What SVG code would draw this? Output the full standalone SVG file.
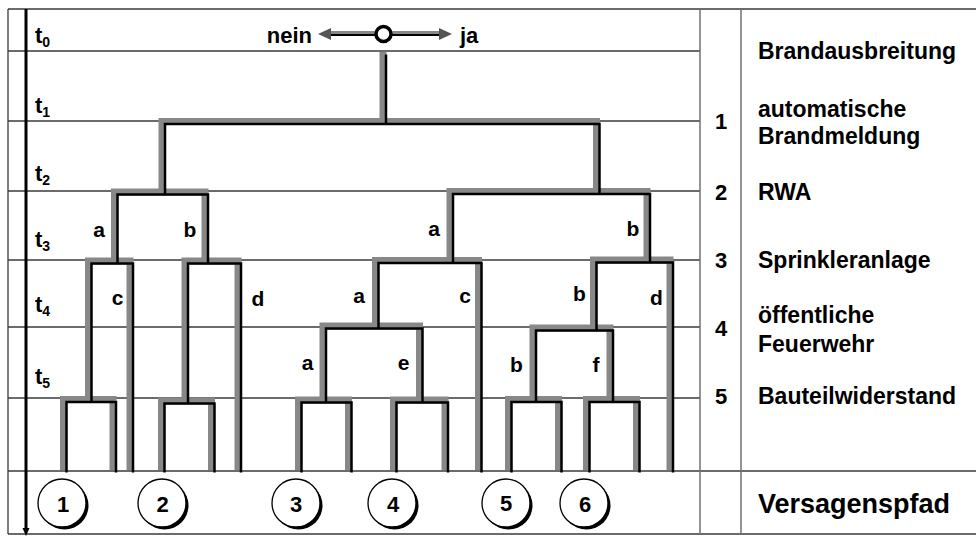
<svg xmlns="http://www.w3.org/2000/svg" xmlns:xlink="http://www.w3.org/1999/xlink" width="976" height="538" viewBox="0 0 976 538">
<style>
  text { font-family: "Liberation Sans", Arial, sans-serif; font-weight: bold; fill: #000; }
  .grid { stroke: #3a3a3a; stroke-width: 1.3; fill: none; }
  .col { stroke: #707070; stroke-width: 1.5; fill: none; }
  .gray { stroke: #888888; stroke-width: 7; fill: none; stroke-linejoin: miter; stroke-linecap: butt; }
  .blk { stroke: #000; stroke-width: 2.5; fill: none; stroke-linejoin: miter; stroke-linecap: butt; }
  .lbl { font-size: 21px; text-anchor: middle; }
  .t { font-size: 22px; }
  .sub { font-size: 14px; }
  .rt { font-size: 23px; }
  .num { font-size: 22px; text-anchor: middle; }
  .cnum { font-size: 22px; text-anchor: middle; }
</style>
<defs>
  <g id="forkpaths">
    <path d="M383,52 V121.5"/>
    <path d="M162,192 V121.5 H596.5 V191.5"/>
    <path d="M114.5,261 V192 H205 V261"/>
    <path d="M88.5,399.5 V261 H130 V470"/>
    <path d="M63.5,470 V399.5 H113 V470"/>
    <path d="M185,401 V261 H238 V470"/>
    <path d="M161.5,470 V401 H211.5 V470"/>
    <path d="M450,260.5 V191.5 H647 V260"/>
    <path d="M375.5,326 V260.5 H478.5 V470"/>
    <path d="M323,400 V326 H419.5 V400"/>
    <path d="M298.5,470 V400 H348.5 V470"/>
    <path d="M393.5,470 V400 H445 V470"/>
    <path d="M593.5,328 V260 H670 V470"/>
    <path d="M533,399.5 V328 H610 V399.5"/>
    <path d="M508.5,470 V399.5 H558.5 V470"/>
    <path d="M586.5,470 V399.5 H636.5 V470"/>
  </g>
</defs>
<rect x="0" y="0" width="976" height="538" fill="#fff"/>

<g id="frame">
  <line class="grid" x1="8" y1="9" x2="976" y2="9"/>
  <line class="grid" x1="8" y1="534" x2="976" y2="534"/>
  <line class="grid" x1="8" y1="9" x2="8" y2="534"/>
  <line class="grid" x1="8" y1="51" x2="700" y2="51"/>
  <line class="grid" x1="8" y1="121" x2="700" y2="121"/>
  <line class="grid" x1="8" y1="191" x2="700" y2="191"/>
  <line class="grid" x1="8" y1="260" x2="700" y2="260"/>
  <line class="grid" x1="8" y1="327" x2="700" y2="327" stroke="#666"/>
  <line class="grid" x1="8" y1="398" x2="700" y2="398" stroke="#555"/>
  <line class="grid" x1="8" y1="471" x2="976" y2="471" stroke="#555"/>
  <line class="col" x1="700" y1="9" x2="700" y2="534"/>
  <line class="col" x1="741" y1="9" x2="741" y2="534"/>
</g>

<g id="time-axis">
  <line x1="26" y1="9" x2="26" y2="530" stroke="#000" stroke-width="3"/>
  <polygon points="22.5,528 29.5,528 26,536" fill="#000"/>
  <text class="t" x="35" y="43">t<tspan class="sub" dy="4">0</tspan></text>
  <text class="t" x="35" y="113">t<tspan class="sub" dy="4">1</tspan></text>
  <text class="t" x="35" y="181">t<tspan class="sub" dy="4">2</tspan></text>
  <text class="t" x="35" y="247">t<tspan class="sub" dy="4">3</tspan></text>
  <text class="t" x="35" y="312">t<tspan class="sub" dy="4">4</tspan></text>
  <text class="t" x="35" y="384">t<tspan class="sub" dy="4">5</tspan></text>
</g>

<g id="decision-start">
  <line x1="324" y1="33.5" x2="446" y2="33.5" stroke="#888" stroke-width="5"/>
  <line x1="328" y1="35" x2="442" y2="35" stroke="#000" stroke-width="2"/>
  <polygon points="318,34 331,28 331,40" fill="#555"/>
  <polygon points="452,34 439,28 439,40" fill="#555"/>
  <circle cx="383.5" cy="34" r="7.5" fill="#fff" stroke="#000" stroke-width="3.5"/>
  <text class="rt" x="312" y="43" text-anchor="end" style="font-size:22px">nein</text>
  <text class="rt" x="460" y="43" style="font-size:22px">ja</text>
</g>

<g id="connectors">
  <use xlink:href="#forkpaths" href="#forkpaths" class="gray"/>
  <use xlink:href="#forkpaths" href="#forkpaths" class="blk" transform="translate(3,2.5)"/>
</g>

<g id="branch-labels">
  <text class="lbl" x="99" y="237">a</text>
  <text class="lbl" x="190" y="237">b</text>
  <text class="lbl" x="434" y="236">a</text>
  <text class="lbl" x="633" y="236">b</text>
  <text class="lbl" x="117.5" y="305">c</text>
  <text class="lbl" x="258" y="306">d</text>
  <text class="lbl" x="359" y="303">a</text>
  <text class="lbl" x="465" y="303">c</text>
  <text class="lbl" x="579.5" y="301">b</text>
  <text class="lbl" x="656.5" y="305">d</text>
  <text class="lbl" x="307.5" y="370">a</text>
  <text class="lbl" x="403.5" y="370">e</text>
  <text class="lbl" x="516.5" y="372">b</text>
  <text class="lbl" x="596" y="372">f</text>
</g>

<g id="path-1">
  <circle cx="64.5" cy="505.5" r="24" fill="#000"/>
  <circle cx="62" cy="503" r="24" fill="#fff" stroke="#000" stroke-width="1.3"/>
  <text class="cnum" x="63" y="512">1</text>
</g>
<g id="path-2">
  <circle cx="164.5" cy="505.5" r="24" fill="#000"/>
  <circle cx="162" cy="503" r="24" fill="#fff" stroke="#000" stroke-width="1.3"/>
  <text class="cnum" x="162.5" y="512">2</text>
</g>
<g id="path-3">
  <circle cx="298.5" cy="505.5" r="24" fill="#000"/>
  <circle cx="296" cy="503" r="24" fill="#fff" stroke="#000" stroke-width="1.3"/>
  <text class="cnum" x="296" y="512">3</text>
</g>
<g id="path-4">
  <circle cx="394.5" cy="505.5" r="24" fill="#000"/>
  <circle cx="392" cy="503" r="24" fill="#fff" stroke="#000" stroke-width="1.3"/>
  <text class="cnum" x="393" y="512">4</text>
</g>
<g id="path-5">
  <circle cx="508.5" cy="505.5" r="24" fill="#000"/>
  <circle cx="506" cy="503" r="24" fill="#fff" stroke="#000" stroke-width="1.3"/>
  <text class="cnum" x="506" y="511">5</text>
</g>
<g id="path-6">
  <circle cx="586.5" cy="505.5" r="24" fill="#000"/>
  <circle cx="584" cy="503" r="24" fill="#fff" stroke="#000" stroke-width="1.3"/>
  <text class="cnum" x="585" y="512">6</text>
</g>

<g id="legend">
  <text class="num" x="721" y="129">1</text>
  <text class="num" x="721" y="200">2</text>
  <text class="num" x="721" y="268">3</text>
  <text class="num" x="721" y="336">4</text>
  <text class="num" x="721" y="404">5</text>
  <text class="rt" x="758" y="59">Brandausbreitung</text>
  <text class="rt" x="758" y="117">automatische</text>
  <text class="rt" x="758" y="144">Brandmeldung</text>
  <text class="rt" x="758" y="200">RWA</text>
  <text class="rt" x="758" y="268">Sprinkleranlage</text>
  <text class="rt" x="758" y="323">öffentliche</text>
  <text class="rt" x="758" y="352">Feuerwehr</text>
  <text class="rt" x="758" y="404">Bauteilwiderstand</text>
  <text class="rt" x="758" y="513" style="font-size:27px">Versagenspfad</text>
</g>
</svg>
